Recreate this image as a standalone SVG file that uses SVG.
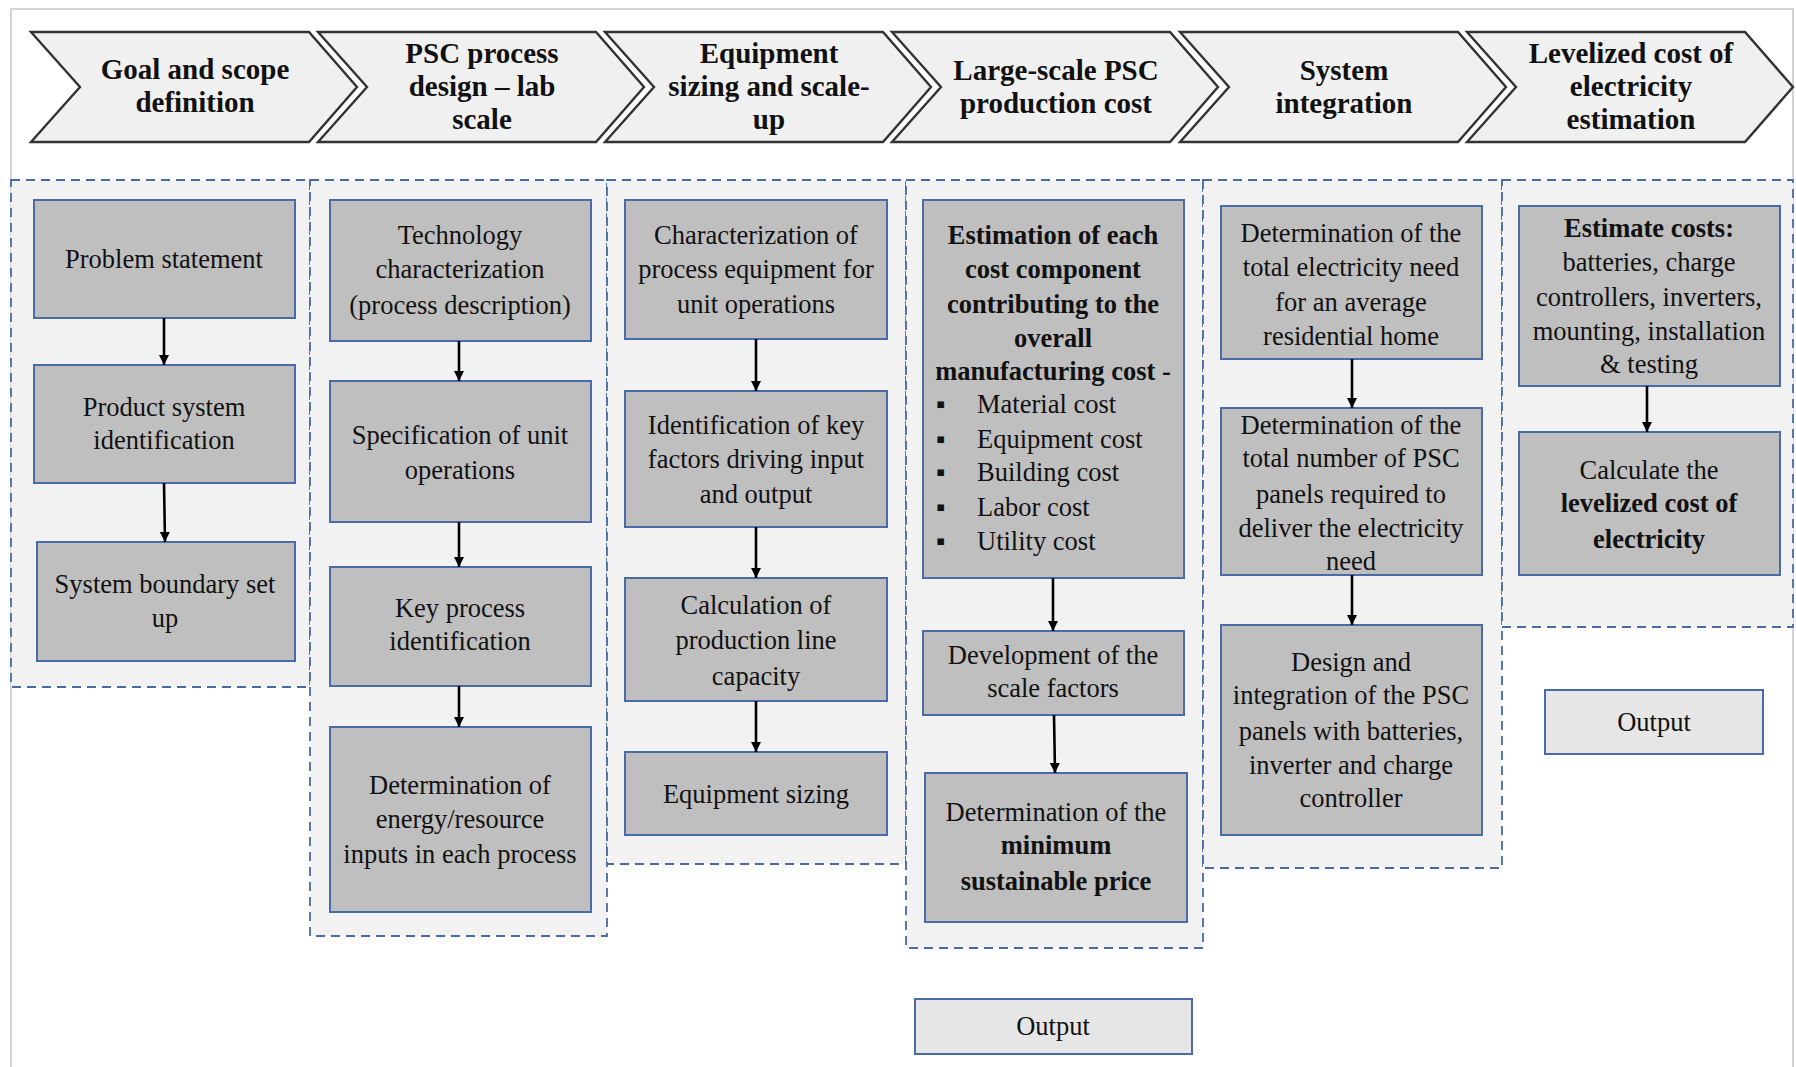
<svg xmlns="http://www.w3.org/2000/svg" width="1796" height="1067" viewBox="0 0 1796 1067">
  <style>
    .frame { fill: #ffffff; stroke: #d4d4d4; stroke-width: 2; }
    .chev { fill: #f0f0f0; stroke: #333333; stroke-width: 2.4; stroke-linejoin: miter; }
    .chevtxt { font-family: "Liberation Serif", "Times New Roman", serif; font-weight: bold; font-size: 29px; fill: #111; text-anchor: middle; }
    .lane { fill: #f2f2f2; stroke: #4a6aa3; stroke-width: 1.8; stroke-dasharray: 9 6; }
    .box { fill: #bfbfbf; stroke: #4a6aa8; stroke-width: 2; }
    .out { fill: #e6e6e6; stroke: #4a6aa8; stroke-width: 2; }
    .t { font-family: "Liberation Serif", "Times New Roman", serif; font-size: 26.5px; fill: #111; text-anchor: middle; }
    .tl { font-family: "Liberation Serif", "Times New Roman", serif; font-size: 26.5px; fill: #111; }
    .b { font-weight: bold; }
    .arrow { stroke: #000; stroke-width: 2.6; fill: none; marker-end: url(#ah); }
  </style>
  <defs>
    <marker id="ah" viewBox="0 0 10 10" refX="10" refY="5" markerWidth="4" markerHeight="4.4" orient="auto" markerUnits="strokeWidth">
      <path d="M0,0 L10,5 L0,10 z" fill="#000"/>
    </marker>
  </defs>

  <rect class="frame" x="11" y="9" width="1782" height="1080"/>

  <!-- stage banner: six chevrons -->
  <g id="stage-goal">
    <path class="chev" d="M31,32 H309 L357,87 L309,142 H31 L80,87 Z"/>
    <text class="chevtxt" x="195" y="79">Goal and scope</text>
    <text class="chevtxt" x="195" y="112">definition</text>
  </g>
  <g id="stage-design">
    <path class="chev" d="M318,32 H596 L644,87 L596,142 H318 L367,87 Z"/>
    <text class="chevtxt" x="482" y="63">PSC process</text>
    <text class="chevtxt" x="482" y="96">design – lab</text>
    <text class="chevtxt" x="482" y="129">scale</text>
  </g>
  <g id="stage-sizing">
    <path class="chev" d="M605,32 H883 L931,87 L883,142 H605 L654,87 Z"/>
    <text class="chevtxt" x="769" y="63">Equipment</text>
    <text class="chevtxt" x="769" y="96">sizing and scale-</text>
    <text class="chevtxt" x="769" y="129">up</text>
  </g>
  <g id="stage-production">
    <path class="chev" d="M892,32 H1170 L1218,87 L1170,142 H892 L941,87 Z"/>
    <text class="chevtxt" x="1056" y="80">Large-scale PSC</text>
    <text class="chevtxt" x="1056" y="113">production  cost</text>
  </g>
  <g id="stage-integration">
    <path class="chev" d="M1180,32 H1458 L1506,87 L1458,142 H1180 L1229,87 Z"/>
    <text class="chevtxt" x="1344" y="80">System</text>
    <text class="chevtxt" x="1344" y="113">integration</text>
  </g>
  <g id="stage-lcoe">
    <path class="chev" d="M1467,32 H1745 L1793,87 L1745,142 H1467 L1516,87 Z"/>
    <text class="chevtxt" x="1631" y="63">Levelized cost of</text>
    <text class="chevtxt" x="1631" y="96">electricity</text>
    <text class="chevtxt" x="1631" y="129">estimation</text>
  </g>

  <!-- dashed lanes under each stage -->
  <g id="lanes">
    <rect class="lane" x="11" y="180" width="299" height="507"/>
    <rect class="lane" x="310" y="180" width="297" height="756"/>
    <rect class="lane" x="607" y="180" width="299" height="684"/>
    <rect class="lane" x="906" y="180" width="297" height="768"/>
    <rect class="lane" x="1203" y="180" width="299" height="688"/>
    <rect class="lane" x="1502" y="180" width="291" height="447"/>
  </g>

  <!-- lane 1 -->
  <g id="problem-statement">
    <rect class="box" x="34" y="200" width="261" height="118"/>
    <text class="t" x="164" y="268">Problem statement</text>
  </g>
  <g id="product-system">
    <rect class="box" x="34" y="365" width="261" height="118"/>
    <text class="t" x="164" y="416">Product system</text>
    <text class="t" x="164" y="449">identification</text>
  </g>
  <g id="system-boundary">
    <rect class="box" x="37" y="542" width="258" height="119"/>
    <text class="t" x="165" y="593">System boundary set</text>
    <text class="t" x="165" y="627">up</text>
  </g>

  <!-- lane 2 -->
  <g id="technology">
    <rect class="box" x="330" y="200" width="261" height="141"/>
    <text class="t" x="460" y="244">Technology</text>
    <text class="t" x="460" y="278">characterization</text>
    <text class="t" x="460" y="314">(process description)</text>
  </g>
  <g id="unit-operations">
    <rect class="box" x="330" y="381" width="261" height="141"/>
    <text class="t" x="460" y="444">Specification of unit</text>
    <text class="t" x="460" y="479">operations</text>
  </g>
  <g id="key-process">
    <rect class="box" x="330" y="567" width="261" height="119"/>
    <text class="t" x="460" y="617">Key process</text>
    <text class="t" x="460" y="650">identification</text>
  </g>
  <g id="energy-inputs">
    <rect class="box" x="330" y="727" width="261" height="185"/>
    <text class="t" x="460" y="794">Determination of</text>
    <text class="t" x="460" y="828">energy/resource</text>
    <text class="t" x="460" y="863">inputs in each process</text>
  </g>

  <!-- lane 3 -->
  <g id="equipment-characterization">
    <rect class="box" x="625" y="200" width="262" height="139"/>
    <text class="t" x="756" y="244">Characterization of</text>
    <text class="t" x="756" y="278">process equipment for</text>
    <text class="t" x="756" y="313">unit operations</text>
  </g>
  <g id="key-factors">
    <rect class="box" x="625" y="391" width="262" height="136"/>
    <text class="t" x="756" y="434">Identification of key</text>
    <text class="t" x="756" y="468">factors driving input</text>
    <text class="t" x="756" y="503">and output</text>
  </g>
  <g id="line-capacity">
    <rect class="box" x="625" y="578" width="262" height="123"/>
    <text class="t" x="756" y="614">Calculation of</text>
    <text class="t" x="756" y="649">production line</text>
    <text class="t" x="756" y="685">capacity</text>
  </g>
  <g id="equipment-sizing">
    <rect class="box" x="625" y="752" width="262" height="83"/>
    <text class="t" x="756" y="803">Equipment sizing</text>
  </g>

  <!-- lane 4 -->
  <g id="cost-components">
    <rect class="box" x="923" y="200" width="261" height="378"/>
    <text class="t b" x="1053" y="244">Estimation of each</text>
    <text class="t b" x="1053" y="278">cost component</text>
    <text class="t b" x="1053" y="313">contributing to the</text>
    <text class="t b" x="1053" y="347">overall</text>
    <text class="t b" x="1053" y="380">manufacturing cost -</text>
    <text class="tl" x="936" y="413">▪</text>
    <text class="tl" x="977" y="413">Material cost</text>
    <text class="tl" x="936" y="448">▪</text>
    <text class="tl" x="977" y="448">Equipment cost</text>
    <text class="tl" x="936" y="481">▪</text>
    <text class="tl" x="977" y="481">Building cost</text>
    <text class="tl" x="936" y="516">▪</text>
    <text class="tl" x="977" y="516">Labor cost</text>
    <text class="tl" x="936" y="550">▪</text>
    <text class="tl" x="977" y="550">Utility cost</text>
  </g>
  <g id="scale-factors">
    <rect class="box" x="923" y="631" width="261" height="84"/>
    <text class="t" x="1053" y="664">Development of the</text>
    <text class="t" x="1053" y="697">scale factors</text>
  </g>
  <g id="minimum-price">
    <rect class="box" x="925" y="773" width="262" height="149"/>
    <text class="t" x="1056" y="821">Determination of the</text>
    <text class="t b" x="1056" y="854">minimum</text>
    <text class="t b" x="1056" y="890">sustainable price</text>
  </g>

  <!-- lane 5 -->
  <g id="electricity-need">
    <rect class="box" x="1221" y="206" width="261" height="153"/>
    <text class="t" x="1351" y="242">Determination of the</text>
    <text class="t" x="1351" y="276">total electricity need</text>
    <text class="t" x="1351" y="311">for an average</text>
    <text class="t" x="1351" y="345">residential home</text>
  </g>
  <g id="panel-count">
    <rect class="box" x="1221" y="408" width="261" height="167"/>
    <text class="t" x="1351" y="434">Determination of the</text>
    <text class="t" x="1351" y="467">total number of PSC</text>
    <text class="t" x="1351" y="503">panels required to</text>
    <text class="t" x="1351" y="537">deliver the electricity</text>
    <text class="t" x="1351" y="570">need</text>
  </g>
  <g id="system-design">
    <rect class="box" x="1221" y="625" width="261" height="210"/>
    <text class="t" x="1351" y="671">Design and</text>
    <text class="t" x="1351" y="704">integration of the PSC</text>
    <text class="t" x="1351" y="740">panels with batteries,</text>
    <text class="t" x="1351" y="774">inverter and charge</text>
    <text class="t" x="1351" y="807">controller</text>
  </g>

  <!-- lane 6 -->
  <g id="estimate-costs">
    <rect class="box" x="1519" y="206" width="261" height="180"/>
    <text class="t b" x="1649" y="237">Estimate costs:</text>
    <text class="t" x="1649" y="271">batteries, charge</text>
    <text class="t" x="1649" y="306">controllers, inverters,</text>
    <text class="t" x="1649" y="340">mounting, installation</text>
    <text class="t" x="1649" y="373">&amp; testing</text>
  </g>
  <g id="lcoe">
    <rect class="box" x="1519" y="432" width="261" height="143"/>
    <text class="t" x="1649" y="479">Calculate the</text>
    <text class="t b" x="1649" y="512">levelized cost of</text>
    <text class="t b" x="1649" y="548">electricity</text>
  </g>

  <!-- output markers -->
  <g id="output-lcoe">
    <rect class="out" x="1545" y="690" width="218" height="64"/>
    <text class="t" x="1654" y="731">Output</text>
  </g>
  <g id="output-price">
    <rect class="out" x="915" y="999" width="277" height="55"/>
    <text class="t" x="1053" y="1035">Output</text>
  </g>

  <!-- connectors -->
  <g id="connectors">
    <line class="arrow" x1="164" y1="318" x2="164" y2="365"/>
    <line class="arrow" x1="164" y1="483" x2="165" y2="542"/>
    <line class="arrow" x1="459" y1="341" x2="459" y2="381"/>
    <line class="arrow" x1="459" y1="522" x2="459" y2="567"/>
    <line class="arrow" x1="459" y1="686" x2="459" y2="727"/>
    <line class="arrow" x1="756" y1="339" x2="756" y2="391"/>
    <line class="arrow" x1="756" y1="527" x2="756" y2="578"/>
    <line class="arrow" x1="756" y1="701" x2="756" y2="752"/>
    <line class="arrow" x1="1053" y1="578" x2="1053" y2="631"/>
    <line class="arrow" x1="1054" y1="715" x2="1055" y2="773"/>
    <line class="arrow" x1="1352" y1="359" x2="1352" y2="408"/>
    <line class="arrow" x1="1352" y1="575" x2="1352" y2="625"/>
    <line class="arrow" x1="1647" y1="386" x2="1647" y2="432"/>
  </g>
</svg>
